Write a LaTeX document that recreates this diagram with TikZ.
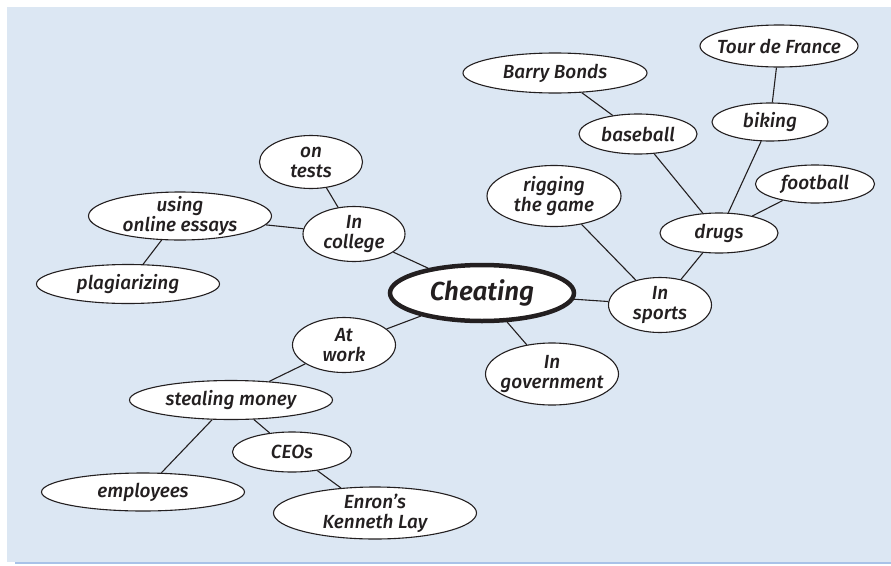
\documentclass[tikz,border=0pt]{standalone}
\usepackage{fontspec}
\setmainfont{Fira Sans}[ItalicFont={Fira Sans Medium Italic}, BoldItalicFont={Fira Sans SemiBold Italic}]
\usepackage{xcolor}
\usetikzlibrary{shapes.geometric}

\definecolor{paneblue}{HTML}{DCE7F3}
\definecolor{ruleblue}{HTML}{A9C2E8}
\definecolor{inkgray}{HTML}{231F20}

\begin{document}
\begin{tikzpicture}[x=1pt, y=-1pt,
    every node/.style={ellipse, draw=inkgray, fill=white, line width=1.1pt,
        inner xsep=-25pt, inner ysep=-8pt,
        align=center, text=inkgray, font=\fontsize{19}{20}\selectfont\itshape},
    topic/.style={line width=4.5pt, font=\fontsize{26}{28}\selectfont\itshape\bfseries},
    link/.style={draw=inkgray, line width=1.1pt}]
        \useasboundingbox (0,0) rectangle (891,565);
        % Background
        \fill[paneblue] (7,7) rectangle (891,562);
        \draw[ruleblue, line width=1.2pt] (15,563) -- (891,563);

        % Nodes
        \node[topic, minimum width=184pt, minimum height=56pt] (cheat) at (482,293) {Cheating};
        \node[minimum width=102pt, minimum height=55pt] (college) at (354,234) {In\\college};
        \node[minimum width=103pt, minimum height=53pt] (tests) at (311,162) {on\\tests};
        \node[minimum width=183pt, minimum height=48pt] (essays) at (180,216) {using\\online essays};
        \node[minimum width=183pt, minimum height=39pt] (plag) at (128,284) {plagiarizing};
        \node[minimum width=103pt, minimum height=55pt] (work) at (344,345) {At\\work};
        \node[minimum width=203pt, minimum height=39pt] (steal) at (231,400) {stealing money};
        \node[minimum width=203pt, minimum height=38pt] (staff) at (143,492) {employees};
        \node[minimum width=119pt, minimum height=40pt] (ceos) at (292,452) {CEOs};
        \node[minimum width=203pt, minimum height=52pt] (enron) at (375,513) {Enron’s\\Kenneth Lay};
        \node[minimum width=133pt, minimum height=62pt] (gov) at (552,374) {In\\government};
        \node[minimum width=103pt, minimum height=55pt] (sports) at (660,305) {In\\sports};
        \node[minimum width=134pt, minimum height=61pt] (rig) at (554,196) {rigging\\the game};
        \node[minimum width=118pt, minimum height=40pt] (drugs) at (719,233) {drugs};
        \node[minimum width=119pt, minimum height=38pt] (football) at (815,184) {football};
        \node[minimum width=118pt, minimum height=40pt] (baseball) at (638,134) {baseball};
        \node[minimum width=184pt, minimum height=40pt] (bonds) at (555,73) {Barry Bonds};
        \node[minimum width=116pt, minimum height=38pt] (biking) at (770,122) {biking};
        \node[minimum width=158pt, minimum height=42pt] (tour) at (779,46) {Tour de France};

        % Links
        \foreach \from/\to in {cheat/college, college/tests, college/essays, essays/plag,
            cheat/work, work/steal, steal/staff, steal/ceos, ceos/enron, cheat/gov,
            cheat/sports, sports/rig, sports/drugs, drugs/football, drugs/baseball,
            baseball/bonds, drugs/biking, biking/tour}
            \draw[link] (\from) -- (\to);
    \end{tikzpicture}
\end{document}
